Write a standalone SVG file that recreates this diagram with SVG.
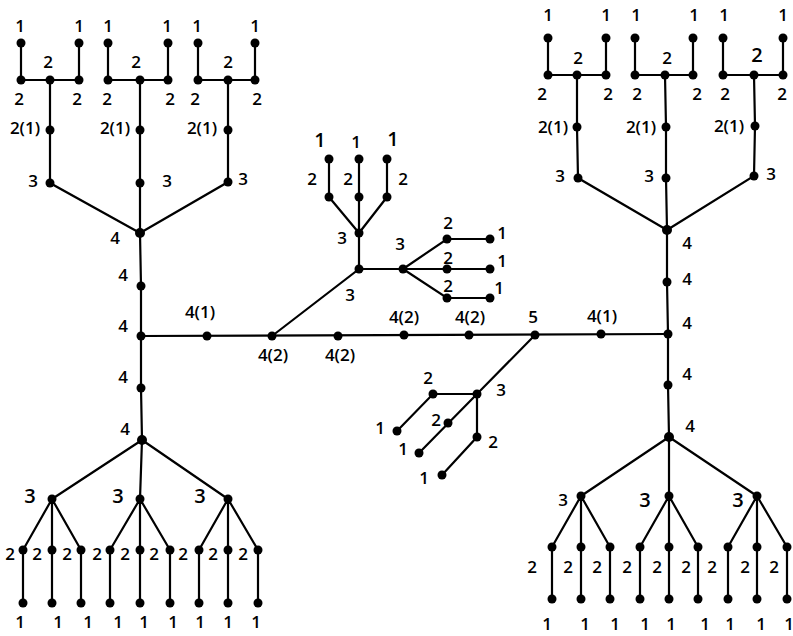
<svg xmlns="http://www.w3.org/2000/svg" width="793" height="636" viewBox="0 0 793 636">
<style>
  .bg { fill: #ffffff; }
  .e { stroke: #000; stroke-width: 2.2; fill: none; stroke-linecap: round; }
  circle { fill: #000; }
  text { font-family: "Open Sans", "Liberation Sans", sans-serif; font-weight: 600; font-size: 17px; fill: #000; text-anchor: middle; dominant-baseline: central; }
  .big { font-size: 20px; }
</style>
<rect class="bg" width="793" height="636"/>

<!-- connectors -->
<g id="connectors" class="e">
  <!-- upper left sub-trees -->
  <path d="M21,43V80H79V43M50,80V183L140,233"/>
  <path d="M108,43V80H168V43M140,80V233"/>
  <path d="M198,43V80H255V43M228,80V182L140,233"/>
  <!-- left spine -->
  <path d="M140,233L141,286L141,336L141,388L142,440"/>
  <!-- lower left sub-trees -->
  <path d="M142,440L52,499M142,440L140,499M142,440L228,499"/>
  <path d="M52,499L23,550V603M52,499V603M52,499L81,550V603"/>
  <path d="M140,499L110,550V603M140,499V603M140,499L170,550V603"/>
  <path d="M228,499L199,550V603M228,499V603M228,499L258,550V603"/>
  <!-- main horizontal -->
  <path d="M141,336L668,334"/>
  <!-- centre upper branch -->
  <path d="M272,336L359,269V233M359,233L329,197V159M359,233V159M359,233L387,197V159"/>
  <path d="M359,269H403M403,269L447,239H490M403,269H490M403,269L447,298H490"/>
  <!-- centre lower branch -->
  <path d="M535,335L477,394H433L397,431M477,394L419,453M477,394V437L442,475"/>
  <!-- upper right sub-trees -->
  <path d="M548,38V75H606V38M577,75V127L578,178L667,230"/>
  <path d="M635,38V75H693V38M665,75L666,127V178L667,230"/>
  <path d="M723,38V75H783V38M754,75L755,126L754,176L667,230"/>
  <!-- right spine -->
  <path d="M667,230V282L668,334V385L669,437"/>
  <!-- lower right sub-trees -->
  <path d="M669,437L581,496M669,437V496M669,437L757,496"/>
  <path d="M581,496L552,547V599M581,496V599M581,496L610,547V599"/>
  <path d="M669,496L640,547V599M669,496V599M669,496L698,547V599"/>
  <path d="M757,496L728,547V599M757,496V599M757,496L787,547V599"/>
</g>

<!-- upper left tree a -->
<g id="lta-leaf1"><circle cx="21" cy="43" r="4.5"/><text x="20" y="25">1</text></g>
<g id="lta-leaf2"><circle cx="79" cy="43" r="4.5"/><text x="79" y="25">1</text></g>
<g id="lta-bar1"><circle cx="21" cy="80" r="4.5"/><text x="19" y="98">2</text></g>
<g id="lta-bar2"><circle cx="50" cy="80" r="4.5"/><text x="48" y="61">2</text></g>
<g id="lta-bar3"><circle cx="79" cy="80" r="4.5"/><text x="77" y="98">2</text></g>
<g id="lta-mid"><circle cx="50" cy="130" r="4.5"/><text x="25" y="127">2(1)</text></g>
<g id="lta-root"><circle cx="50" cy="183" r="4.5"/><text x="33" y="180">3</text></g>
<!-- upper left tree b -->
<g id="ltb-leaf1"><circle cx="108" cy="43" r="4.5"/><text x="108" y="25">1</text></g>
<g id="ltb-leaf2"><circle cx="168" cy="43" r="4.5"/><text x="167" y="25">1</text></g>
<g id="ltb-bar1"><circle cx="108" cy="80" r="4.5"/><text x="107" y="98">2</text></g>
<g id="ltb-bar2"><circle cx="140" cy="80" r="4.5"/><text x="136" y="61">2</text></g>
<g id="ltb-bar3"><circle cx="168" cy="80" r="4.5"/><text x="170" y="98">2</text></g>
<g id="ltb-mid"><circle cx="140" cy="130" r="4.5"/><text x="115" y="127">2(1)</text></g>
<g id="ltb-root"><circle cx="140" cy="183" r="4.5"/><text x="167" y="180">3</text></g>
<!-- upper left tree c -->
<g id="ltc-leaf1"><circle cx="198" cy="43" r="4.5"/><text x="197" y="25">1</text></g>
<g id="ltc-leaf2"><circle cx="255" cy="43" r="4.5"/><text x="255" y="25">1</text></g>
<g id="ltc-bar1"><circle cx="198" cy="80" r="4.5"/><text x="195" y="98">2</text></g>
<g id="ltc-bar2"><circle cx="228" cy="80" r="4.5"/><text x="228" y="61">2</text></g>
<g id="ltc-bar3"><circle cx="255" cy="80" r="4.5"/><text x="257" y="98">2</text></g>
<g id="ltc-mid"><circle cx="228" cy="130" r="4.5"/><text x="202" y="127">2(1)</text></g>
<g id="ltc-root"><circle cx="228" cy="182" r="4.5"/><text x="243" y="178">3</text></g>

<!-- left spine -->
<g id="l4a"><circle cx="140" cy="233" r="5"/><text x="115" y="237">4</text></g>
<g id="l4b"><circle cx="141" cy="286" r="4.5"/><text x="123" y="274">4</text></g>
<g id="l4c"><circle cx="141" cy="336" r="4.5"/><text x="123" y="325">4</text></g>
<g id="l4d"><circle cx="141" cy="388" r="4.5"/><text x="123" y="376">4</text></g>
<g id="l4e"><circle cx="142" cy="440" r="5"/><text x="125" y="428">4</text></g>

<!-- lower left tree -->
<g id="lb3a"><circle cx="52" cy="499" r="4.5"/><text class="big" x="30" y="495">3</text></g>
<g id="lb3b"><circle cx="140" cy="499" r="4.5"/><text class="big" x="118" y="495">3</text></g>
<g id="lb3c"><circle cx="228" cy="499" r="4.5"/><text class="big" x="200" y="495">3</text></g>
<g id="lb2-1"><circle cx="23" cy="550" r="4.5"/><text x="10" y="553">2</text></g>
<g id="lb2-2"><circle cx="52" cy="550" r="4.5"/><text x="37" y="553">2</text></g>
<g id="lb2-3"><circle cx="81" cy="550" r="4.5"/><text x="67" y="553">2</text></g>
<g id="lb2-4"><circle cx="110" cy="550" r="4.5"/><text x="97" y="553">2</text></g>
<g id="lb2-5"><circle cx="140" cy="550" r="4.5"/><text x="125" y="553">2</text></g>
<g id="lb2-6"><circle cx="170" cy="550" r="4.5"/><text x="154" y="553">2</text></g>
<g id="lb2-7"><circle cx="199" cy="550" r="4.5"/><text x="183" y="553">2</text></g>
<g id="lb2-8"><circle cx="228" cy="550" r="4.5"/><text x="213" y="553">2</text></g>
<g id="lb2-9"><circle cx="258" cy="550" r="4.5"/><text x="243" y="553">2</text></g>
<g id="lb1-1"><circle cx="23" cy="603" r="4.5"/><text x="20" y="621">1</text></g>
<g id="lb1-2"><circle cx="52" cy="603" r="4.5"/><text x="58" y="621">1</text></g>
<g id="lb1-3"><circle cx="81" cy="603" r="4.5"/><text x="88" y="621">1</text></g>
<g id="lb1-4"><circle cx="110" cy="603" r="4.5"/><text x="118" y="621">1</text></g>
<g id="lb1-5"><circle cx="140" cy="603" r="4.5"/><text x="144" y="621">1</text></g>
<g id="lb1-6"><circle cx="170" cy="603" r="4.5"/><text x="173" y="621">1</text></g>
<g id="lb1-7"><circle cx="199" cy="603" r="4.5"/><text x="200" y="621">1</text></g>
<g id="lb1-8"><circle cx="228" cy="603" r="4.5"/><text x="228" y="621">1</text></g>
<g id="lb1-9"><circle cx="258" cy="603" r="4.5"/><text x="256" y="621">1</text></g>

<!-- main horizontal nodes -->
<g id="h41"><circle cx="207" cy="336" r="4.5"/><text x="200" y="311">4(1)</text></g>
<g id="h42a"><circle cx="272" cy="336" r="4.5"/><text x="273" y="354">4(2)</text></g>
<g id="h42b"><circle cx="338" cy="336" r="4.5"/><text x="340" y="354">4(2)</text></g>
<g id="h42c"><circle cx="404" cy="335" r="4.5"/><text x="404" y="316">4(2)</text></g>
<g id="h42d"><circle cx="469" cy="335" r="4.5"/><text x="470" y="316">4(2)</text></g>
<g id="n5"><circle cx="535" cy="335" r="4.5"/><text x="533" y="316">5</text></g>
<g id="r41"><circle cx="601" cy="334" r="4.5"/><text x="602" y="315">4(1)</text></g>

<!-- centre upper branch -->
<g id="c3a"><circle cx="359" cy="269" r="4.5"/><text x="350" y="294">3</text></g>
<g id="c3b"><circle cx="359" cy="233" r="4.5"/><text x="342" y="237">3</text></g>
<g id="c2a"><circle cx="329" cy="197" r="4.5"/><text x="312" y="178">2</text></g>
<g id="c2b"><circle cx="359" cy="197" r="4.5"/><text x="348" y="178">2</text></g>
<g id="c2c"><circle cx="387" cy="197" r="4.5"/><text x="403" y="178">2</text></g>
<g id="c1a"><circle cx="329" cy="159" r="4.5"/><text class="big" x="320" y="139">1</text></g>
<g id="c1b"><circle cx="359" cy="159" r="4.5"/><text x="356" y="141">1</text></g>
<g id="c1c"><circle cx="387" cy="159" r="4.5"/><text class="big" x="393" y="138">1</text></g>
<g id="c3c"><circle cx="403" cy="269" r="4.5"/><text x="400" y="243">3</text></g>
<g id="c2d"><circle cx="447" cy="239" r="4.5"/><text x="448" y="222">2</text></g>
<g id="c2e"><circle cx="447" cy="269" r="4.5"/><text x="448" y="257">2</text></g>
<g id="c2f"><circle cx="447" cy="298" r="4.5"/><text x="448" y="285">2</text></g>
<g id="c1d"><circle cx="490" cy="239" r="4.5"/><text x="502" y="232">1</text></g>
<g id="c1e"><circle cx="490" cy="269" r="4.5"/><text x="502" y="260">1</text></g>
<g id="c1f"><circle cx="490" cy="298" r="4.5"/><text x="499" y="287">1</text></g>

<!-- centre lower branch -->
<g id="d3"><circle cx="477" cy="394" r="4.5"/><text x="501" y="389">3</text></g>
<g id="d2a"><circle cx="433" cy="394" r="4.5"/><text x="428" y="377">2</text></g>
<g id="d1a"><circle cx="397" cy="431" r="4.5"/><text x="380" y="427">1</text></g>
<g id="d2b"><circle cx="448" cy="423" r="4.5"/><text x="436" y="419">2</text></g>
<g id="d1b"><circle cx="419" cy="453" r="4.5"/><text x="403" y="448">1</text></g>
<g id="d2c"><circle cx="477" cy="437" r="4.5"/><text x="493" y="441">2</text></g>
<g id="d1c"><circle cx="442" cy="475" r="4.5"/><text x="424" y="477">1</text></g>

<!-- upper right tree a -->
<g id="rta-leaf1"><circle cx="548" cy="38" r="4.5"/><text x="548" y="14">1</text></g>
<g id="rta-leaf2"><circle cx="606" cy="38" r="4.5"/><text x="606" y="14">1</text></g>
<g id="rta-bar1"><circle cx="548" cy="75" r="4.5"/><text x="542" y="93">2</text></g>
<g id="rta-bar2"><circle cx="577" cy="75" r="4.5"/><text x="578" y="57">2</text></g>
<g id="rta-bar3"><circle cx="606" cy="75" r="4.5"/><text x="608" y="93">2</text></g>
<g id="rta-mid"><circle cx="577" cy="127" r="4.5"/><text x="553" y="126">2(1)</text></g>
<g id="rta-root"><circle cx="578" cy="178" r="4.5"/><text x="560" y="175">3</text></g>
<!-- upper right tree b -->
<g id="rtb-leaf1"><circle cx="635" cy="38" r="4.5"/><text x="636" y="14">1</text></g>
<g id="rtb-leaf2"><circle cx="693" cy="38" r="4.5"/><text x="694" y="14">1</text></g>
<g id="rtb-bar1"><circle cx="635" cy="75" r="4.5"/><text x="637" y="93">2</text></g>
<g id="rtb-bar2"><circle cx="665" cy="75" r="4.5"/><text x="667" y="57">2</text></g>
<g id="rtb-bar3"><circle cx="693" cy="75" r="4.5"/><text x="697" y="93">2</text></g>
<g id="rtb-mid"><circle cx="666" cy="127" r="4.5"/><text x="641" y="126">2(1)</text></g>
<g id="rtb-root"><circle cx="666" cy="178" r="4.5"/><text x="649" y="175">3</text></g>
<!-- upper right tree c -->
<g id="rtc-leaf1"><circle cx="723" cy="38" r="4.5"/><text x="724" y="14">1</text></g>
<g id="rtc-leaf2"><circle cx="783" cy="38" r="4.5"/><text x="783" y="14">1</text></g>
<g id="rtc-bar1"><circle cx="723" cy="75" r="4.5"/><text x="725" y="93">2</text></g>
<g id="rtc-bar2"><circle cx="754" cy="75" r="4.5"/><text class="big" x="757" y="54">2</text></g>
<g id="rtc-bar3"><circle cx="783" cy="75" r="4.5"/><text x="782" y="93">2</text></g>
<g id="rtc-mid"><circle cx="755" cy="126" r="4.5"/><text x="729" y="125">2(1)</text></g>
<g id="rtc-root"><circle cx="754" cy="176" r="4.5"/><text x="771" y="173">3</text></g>

<!-- right spine -->
<g id="r4a"><circle cx="667" cy="230" r="5"/><text x="687" y="242">4</text></g>
<g id="r4b"><circle cx="667" cy="282" r="4.5"/><text x="687" y="278">4</text></g>
<g id="r4c"><circle cx="668" cy="334" r="4.5"/><text x="687" y="322">4</text></g>
<g id="r4d"><circle cx="668" cy="385" r="4.5"/><text x="687" y="373">4</text></g>
<g id="r4e"><circle cx="669" cy="437" r="5"/><text x="690" y="425">4</text></g>

<!-- lower right tree -->
<g id="rb3a"><circle cx="581" cy="496" r="4.5"/><text x="563" y="499">3</text></g>
<g id="rb3b"><circle cx="669" cy="496" r="4.5"/><text class="big" x="645" y="499">3</text></g>
<g id="rb3c"><circle cx="757" cy="496" r="4.5"/><text class="big" x="738" y="499">3</text></g>
<g id="rb2-1"><circle cx="552" cy="547" r="4.5"/><text x="532" y="566">2</text></g>
<g id="rb2-2"><circle cx="581" cy="547" r="4.5"/><text x="568" y="566">2</text></g>
<g id="rb2-3"><circle cx="610" cy="547" r="4.5"/><text x="597" y="566">2</text></g>
<g id="rb2-4"><circle cx="640" cy="547" r="4.5"/><text x="627" y="566">2</text></g>
<g id="rb2-5"><circle cx="669" cy="547" r="4.5"/><text x="657" y="566">2</text></g>
<g id="rb2-6"><circle cx="698" cy="547" r="4.5"/><text x="686" y="566">2</text></g>
<g id="rb2-7"><circle cx="728" cy="547" r="4.5"/><text x="712" y="566">2</text></g>
<g id="rb2-8"><circle cx="757" cy="547" r="4.5"/><text x="745" y="566">2</text></g>
<g id="rb2-9"><circle cx="787" cy="547" r="4.5"/><text x="774" y="566">2</text></g>
<g id="rb1-1"><circle cx="552" cy="599" r="4.5"/><text x="547" y="623">1</text></g>
<g id="rb1-2"><circle cx="581" cy="599" r="4.5"/><text x="585" y="623">1</text></g>
<g id="rb1-3"><circle cx="610" cy="599" r="4.5"/><text x="615" y="623">1</text></g>
<g id="rb1-4"><circle cx="640" cy="599" r="4.5"/><text x="645" y="623">1</text></g>
<g id="rb1-5"><circle cx="669" cy="599" r="4.5"/><text x="671" y="623">1</text></g>
<g id="rb1-6"><circle cx="698" cy="599" r="4.5"/><text x="705" y="623">1</text></g>
<g id="rb1-7"><circle cx="728" cy="599" r="4.5"/><text x="730" y="623">1</text></g>
<g id="rb1-8"><circle cx="757" cy="599" r="4.5"/><text x="761" y="623">1</text></g>
<g id="rb1-9"><circle cx="787" cy="599" r="4.5"/><text x="789" y="623">1</text></g>
</svg>
